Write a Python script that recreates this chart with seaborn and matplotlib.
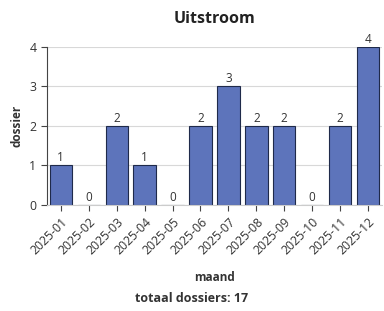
import pandas as pd
import matplotlib.pyplot as plt
import seaborn as sns

# Data
maanden = ['2025-01', '2025-02', '2025-03', '2025-04', '2025-05', '2025-06',
           '2025-07', '2025-08', '2025-09', '2025-10', '2025-11', '2025-12']
dossiers = [1, 0, 2, 1, 0, 2, 3, 2, 2, 0, 2, 4]

df = pd.DataFrame({'maand': maanden, 'dossier': dossiers})

sns.set_style('white')
plt.rcParams['font.family'] = ['Open Sans', 'DejaVu Sans']

fig = plt.figure(figsize=(3.84, 3.11), dpi=100)
ax = fig.add_axes([0.122, 0.341, 0.873, 0.508])

sns.barplot(data=df, x='maand', y='dossier', color='#5d74bb', saturation=1,
            edgecolor='#1f2a4a', linewidth=0.8, width=0.8, ax=ax)

for i, v in enumerate(dossiers):
    ax.text(i, v + 0.03, str(v), ha='center', va='bottom', fontsize=8.5, color='#333333')

ax.set_ylim(0, 4)
ax.set_yticks([0, 1, 2, 3, 4])
ax.yaxis.grid(True, color='#d8d8d8', linewidth=0.8)
ax.set_axisbelow(True)
for s in ['top', 'right']:
    ax.spines[s].set_visible(False)
ax.spines['left'].set_color('#444444')
ax.spines['bottom'].set_color('#cccccc')
ax.tick_params(axis='both', which='both', length=4, width=0.8, color='#444444',
               labelsize=8.8, labelcolor='#333333', bottom=True, left=True)
plt.setp(ax.get_xticklabels(), rotation=45, ha='right', rotation_mode='anchor')

ax.set_xlabel('maand', fontsize=8.5, fontweight='bold', color='#333333', labelpad=10)
ax.set_ylabel('dossier', fontsize=8.5, fontweight='bold', color='#333333', labelpad=4)
ax.set_title('Uitstroom', fontsize=11.5, fontweight='bold', color='#222222', pad=17)

fig.text(0.5, 0.03, 'totaal dossiers: 17', ha='center', fontsize=9,
         fontweight='bold', color='#333333')

fig.savefig('out.png', dpi=100)
